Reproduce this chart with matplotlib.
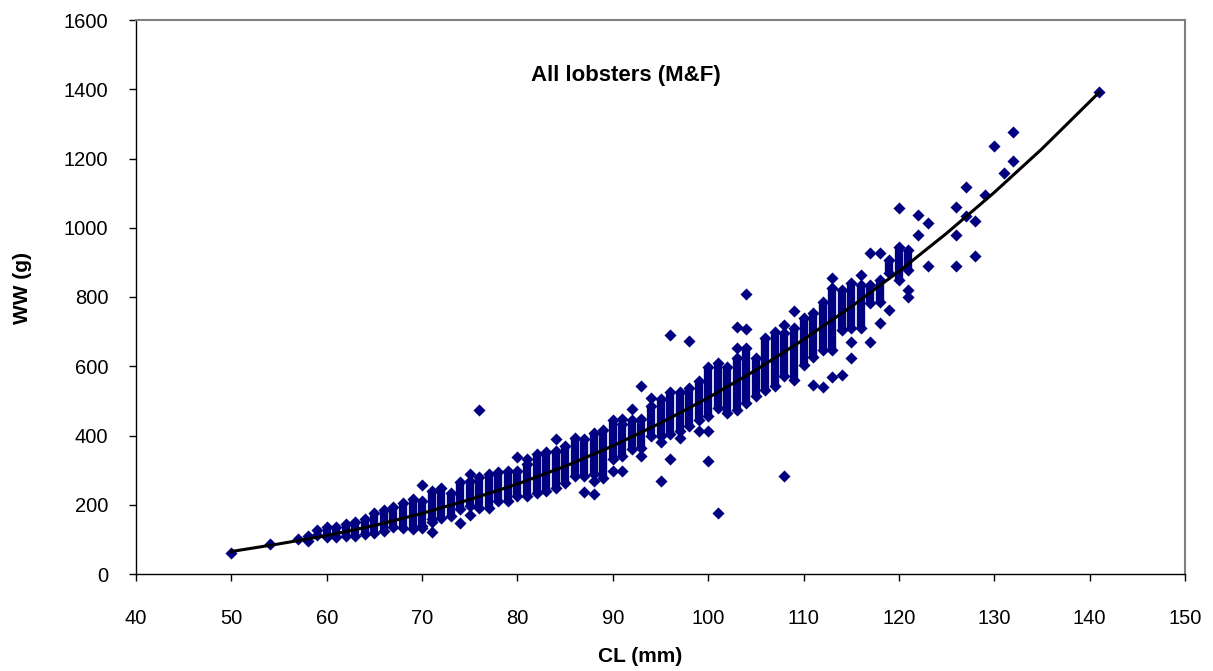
import matplotlib
matplotlib.use("Agg")
import matplotlib.pyplot as plt

plt.rcParams["font.family"] = ["Liberation Sans", "DejaVu Sans"]

# Dense columns: carapace length (mm) with the lowest and highest weight (g) in the column
band_cl = [58, 60, 61, 62, 63, 64, 65, 66, 67, 68, 69, 70, 71, 72, 73, 74, 75, 76, 77, 78,
           79, 80, 81, 82, 83, 84, 85, 86, 87, 88, 89, 90, 91, 92, 93, 94, 95, 96, 97, 98,
           99, 100, 101, 102, 103, 104, 105, 106, 107, 108, 109, 110, 111, 112, 113, 114,
           115, 116, 117, 118, 119, 120, 121]
band_low = [96, 107, 107, 110, 110, 115, 118, 125, 135, 134, 130, 139, 158, 163, 168, 187,
            197, 192, 192, 211, 211, 225, 225, 235, 240, 249, 262, 283, 283, 288, 278, 331,
            340, 360, 365, 398, 398, 403, 412, 427, 446, 456, 480, 465, 475, 494, 513, 532,
            542, 571, 561, 604, 628, 647, 647, 705, 710, 710, 782, 786, 868, 849, 878]
band_high = [110, 135, 135, 144, 150, 160, 175, 185, 194, 206, 216, 211, 240, 247, 235, 266,
             269, 281, 288, 294, 297, 297, 317, 348, 352, 355, 370, 393, 390, 408, 417, 446,
             432, 446, 448, 486, 504, 527, 527, 537, 556, 599, 609, 599, 624, 652, 624, 681,
             700, 696, 710, 739, 753, 786, 825, 820, 839, 835, 835, 849, 906, 945, 935]

# Single, separate points
pt_cl = [50, 54, 57, 59, 59, 70, 70, 71, 71, 74, 75, 75, 76, 80, 81, 84, 87, 88, 88, 90,
         91, 91, 92, 93, 93, 94, 95, 95, 96, 96, 97, 98, 99, 100, 100, 101, 103, 103, 104,
         104, 108, 108, 109, 111, 112, 113, 113, 114, 115, 115, 116, 117, 117, 118, 118,
         119, 120, 121, 121, 122, 122, 123, 123, 126, 126, 126, 127, 127, 128, 128, 129,
         130, 131, 132, 132, 141]
pt_ww = [62, 88, 101, 127, 113, 256, 134, 149, 120, 147, 288, 170, 475, 339, 333, 390, 237,
         269, 232, 298, 448, 297, 477, 542, 340, 507, 381, 269, 691, 333, 393, 673, 412,
         412, 326, 177, 713, 652, 809, 707, 283, 719, 760, 545, 540, 854, 568, 575, 671,
         624, 863, 926, 669, 926, 724, 763, 1058, 820, 801, 1038, 978, 1014, 889, 1060,
         978, 890, 1119, 1034, 1019, 918, 1094, 1237, 1159, 1194, 1277, 1391]

# Power trendline
fit_cl = [50, 55, 60, 65, 70, 75, 80, 85, 90, 95, 100, 105, 110, 115, 120, 125, 130, 135, 141]
fit_ww = [65, 87, 111, 140, 175, 215, 260, 311, 370, 436, 509, 589, 677, 772, 874, 984,
          1102, 1228, 1391]

x_ticks = [40, 50, 60, 70, 80, 90, 100, 110, 120, 130, 140, 150]
y_ticks = [0, 200, 400, 600, 800, 1000, 1200, 1400, 1600]

navy = "#000080"
fig = plt.figure(figsize=(12.13, 6.71), dpi=100)
ax = fig.add_axes([136 / 1213, 1 - 574 / 671, (1185 - 136) / 1213, (574 - 20) / 671])

ax.vlines(band_cl, band_low, band_high, colors=navy, lw=6.0, zorder=2)
ax.scatter(band_cl + band_cl, band_low + band_high, marker="D", s=38, c=navy,
           linewidths=0, zorder=2)
ax.scatter(pt_cl, pt_ww, marker="D", s=38, c=navy, linewidths=0, zorder=2)
ax.plot(fit_cl, fit_ww, color="black", lw=2.2, zorder=3)

ax.set_xlim(40, 150)
ax.set_ylim(0, 1600)
ax.set_xticks(x_ticks)
ax.set_yticks(y_ticks)
ax.tick_params(direction="out", length=5, width=1, labelsize=14.5, color="black")
ax.tick_params(axis="x", pad=20)
ax.tick_params(axis="y", pad=15)
for side in ["top", "right"]:
    ax.spines[side].set_color("#808080")
    ax.spines[side].set_linewidth(1.5)
for side in ["left", "bottom"]:
    ax.spines[side].set_color("black")
    ax.spines[side].set_linewidth(1)

fig.text(22 / 1213, 1 - 288 / 671, "WW (g)", rotation=90, ha="center", va="center",
         fontsize=15, fontweight="bold")
fig.text(640 / 1213, 1 - 657 / 671, "CL (mm)", ha="center", va="center",
         fontsize=15, fontweight="bold")
fig.text(626 / 1213, 1 - 76 / 671, "All lobsters (M&F)", ha="center", va="center",
         fontsize=16, fontweight="bold")

fig.savefig("out.png", dpi=100)
